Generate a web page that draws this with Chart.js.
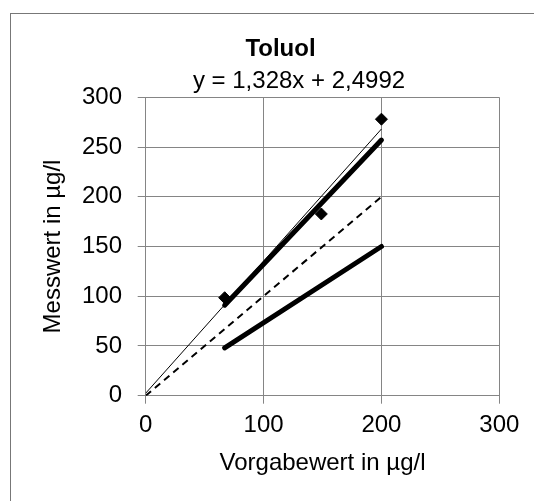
<!DOCTYPE html>
<html>
<head>
<meta charset="utf-8">
<script src="https://cdn.jsdelivr.net/npm/chart.js@4/dist/chart.umd.min.js"></script>
<style>
    body { margin: 0; background: #fff; }
    #wrap { width: 534px; height: 501px; }
</style>
</head>
<body>
<div id="wrap"><canvas id="toluolChart" width="534" height="501"></canvas></div>
<script>
// Messwerte (Rauten)
const measuredX = [67, 149, 200];
const measuredY = [98.5, 182.7, 278];
// lineare Trendlinie y = 1,328x + 2,4992
const trendX = [0, 200];
const trendY = [2.5, 268.1];
// dicke Linien (obere / untere Grenze)
const upperX = [67, 200];
const upperY = [91, 257];
const lowerX = [67, 200];
const lowerY = [48, 150];
// Sollgerade (gestrichelt)
const identityX = [0, 200];
const identityY = [0, 200];

const xTicks = [0, 100, 200, 300];
const yTicks = [0, 50, 100, 150, 200, 250, 300];
const equationText = 'y = 1,328x + 2,4992';

const FONT = '"Liberation Sans", Arial, sans-serif';
const GRID = '#858585';

function toPoints(xs, ys) {
    return xs.map((x, i) => ({ x: x, y: ys[i] }));
}

// grauer Rahmen um das Diagramm + Gleichung der Trendlinie
const frameAndLabel = {
    id: 'frameAndLabel',
    beforeDraw(chart) {
        const ctx = chart.ctx;
        ctx.save();
        ctx.strokeStyle = '#777';
        ctx.lineWidth = 1;
        ctx.strokeRect(10.5, 13.5, 1000, 1000);
        ctx.restore();
    },
    afterDraw(chart) {
        const ctx = chart.ctx;
        const area = chart.chartArea;
        ctx.save();
        ctx.font = '24px ' + FONT;
        ctx.fillStyle = '#000';
        ctx.textAlign = 'center';
        ctx.textBaseline = 'middle';
        ctx.fillText(equationText, area.left + 153.3, area.top - 15.6);
        ctx.restore();
    }
};

const ctx = document.getElementById('toluolChart').getContext('2d');

new Chart(ctx, {
    type: 'scatter',
    data: {
        datasets: [
            {
                label: 'Messwerte',
                data: toPoints(measuredX, measuredY),
                pointStyle: 'rectRot',
                pointRadius: 6,
                backgroundColor: '#000',
                borderColor: '#000',
                borderWidth: 1,
                showLine: false
            },
            {
                label: 'Trend',
                data: toPoints(trendX, trendY),
                showLine: true,
                borderColor: '#000',
                borderWidth: 1,
                pointRadius: 0
            },
            {
                label: 'Oben',
                data: toPoints(upperX, upperY),
                showLine: true,
                borderColor: '#000',
                borderWidth: 5,
                borderCapStyle: 'round',
                pointRadius: 0
            },
            {
                label: 'Unten',
                data: toPoints(lowerX, lowerY),
                showLine: true,
                borderColor: '#000',
                borderWidth: 5,
                borderCapStyle: 'round',
                pointRadius: 0
            },
            {
                label: 'Soll',
                data: toPoints(identityX, identityY),
                showLine: true,
                borderColor: '#000',
                borderWidth: 2,
                borderDash: [7, 5],
                pointRadius: 0
            }
        ]
    },
    options: {
        responsive: false,
        animation: false,
        layout: {
            padding: { left: 36, right: 9, top: 0, bottom: 0 }
        },
        plugins: {
            legend: { display: false },
            tooltip: { enabled: false },
            title: {
                display: true,
                text: 'Toluol',
                color: '#000',
                font: { family: FONT, size: 24, weight: 'bold' },
                padding: { top: 34.6, bottom: 33.9 }
            }
        },
        scales: {
            x: {
                type: 'linear',
                min: 0,
                max: 300,
                afterBuildTicks: axis => { axis.ticks = xTicks.map(v => ({ value: v })); },
                afterFit: axis => { axis.height = 105.3; },
                grid: { color: GRID, tickColor: GRID, tickLength: 8 },
                border: { color: GRID },
                ticks: {
                    color: '#000',
                    padding: 7.5,
                    maxRotation: 0,
                    font: { family: FONT, size: 24 }
                },
                title: {
                    display: true,
                    text: 'Vorgabewert in µg/l',
                    color: '#000',
                    font: { family: FONT, size: 24 },
                    padding: { top: 0, bottom: 23.6 }
                }
            },
            y: {
                type: 'linear',
                min: 0,
                max: 300,
                afterBuildTicks: axis => { axis.ticks = yTicks.map(v => ({ value: v })); },
                afterFit: axis => { axis.width = 109.7; },
                grid: { color: GRID, tickColor: GRID, tickLength: 8 },
                border: { color: GRID },
                ticks: {
                    color: '#000',
                    padding: 15.7,
                    font: { family: FONT, size: 24 }
                },
                title: {
                    display: true,
                    text: 'Messwert in µg/l',
                    color: '#000',
                    font: { family: FONT, size: 24 },
                    padding: { top: 3.4, bottom: 0 }
                }
            },
            // leere Achse rechts, nur als Abstand zum Rahmen
            spacer: {
                type: 'linear',
                position: 'right',
                afterFit: axis => { axis.width = 25.7; },
                grid: { display: false },
                border: { display: false },
                ticks: { display: false }
            }
        }
    },
    plugins: [frameAndLabel]
});
</script>
</body>
</html>
